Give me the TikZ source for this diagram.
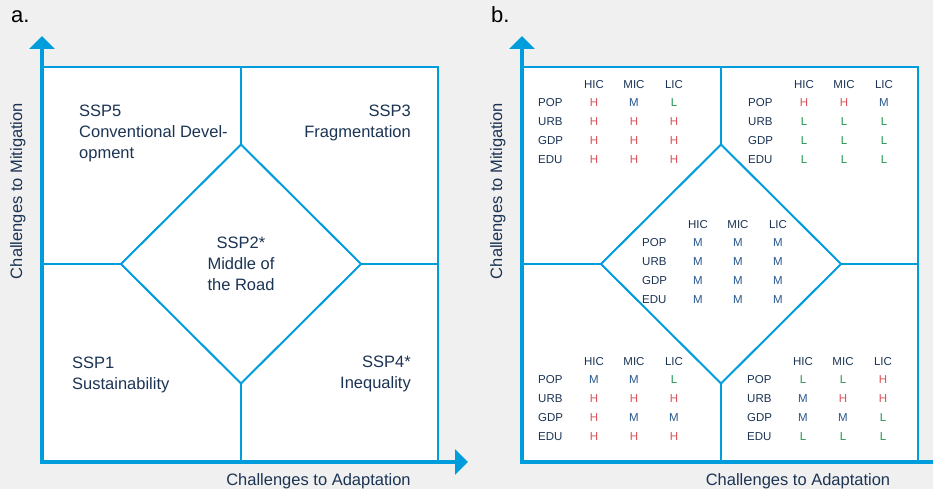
\documentclass[tikz,border=0pt]{standalone}
\usepackage{fontspec}
\setmainfont{Liberation Sans}
\usetikzlibrary{shapes.geometric,arrows.meta}

\definecolor{sspblue}{RGB}{0,157,220}
\definecolor{sspnavy}{RGB}{28,52,84}
\definecolor{sspbg}{RGB}{240,240,240}
\definecolor{colH}{RGB}{220,80,85}
\definecolor{colM}{RGB}{40,88,140}
\definecolor{colL}{RGB}{35,150,80}

\tikzset{
  axisline/.style={draw=sspblue, line width=4pt,
    {Triangle[width=25pt,length=13pt]}-{Triangle[width=25pt,length=13pt]}},
  quadbox/.style={draw=sspblue, fill=white, line width=2pt, minimum width=395pt,
    minimum height=394pt, inner sep=0pt, outer sep=0pt},
  middiamond/.style={diamond, draw=sspblue, line width=2pt, minimum width=240pt,
    minimum height=239pt, inner sep=0pt, outer sep=0pt},
  divider/.style={draw=sspblue, line width=2pt},
  ssplabel/.style={text=sspnavy, inner sep=0pt, font=\fontsize{16.5}{21}\selectfont},
  axislabel/.style={text=sspnavy, inner sep=0pt, font=\fontsize{16.5}{20}\selectfont},
  panellabel/.style={inner sep=0pt, anchor=base west, font=\fontsize{22}{26}\selectfont},
  cell/.style={inner sep=0pt, text height=8pt, text depth=0pt, text=sspnavy,
    font=\fontsize{11.5}{14}\selectfont},
  rowlab/.style={cell, anchor=west},
  val/.style={cell, text=col#1},
}

% one small table: name, x, y of first row, rows
\newcommand{\ssptable}[4]{%
  \foreach \hd [count=\ci] in {HIC,MIC,LIC}
    \node[cell] (#1-\hd) at ({#2+16+40*\ci},{#3-18}) {\hd};
  \foreach \lab/\va/\vb/\vc [count=\ri] in {#4} {
    \node[rowlab] (#1-\lab) at (#2,{#3+19*(\ri-1)}) {\lab};
    \node[val=\va] (#1-\lab-hic) at ({#2+56},{#3+19*(\ri-1)}) {\va};
    \node[val=\vb] (#1-\lab-mic) at ({#2+96},{#3+19*(\ri-1)}) {\vb};
    \node[val=\vc] (#1-\lab-lic) at ({#2+136},{#3+19*(\ri-1)}) {\vc};
  }%
}

\begin{document}
\begin{tikzpicture}[x=1pt, y=-1pt]
  \useasboundingbox (0,0) rectangle (933,489);
  \clip (0,0) rectangle (933,489);
  \fill[sspbg] (0,0) rectangle (933,489);

  % panel a
  \node[quadbox] (boxA) at (240.5,264) {};
  \node[middiamond] (diaA) at (241,264) {};
  \draw[divider] (diaA.north) -- (diaA.north |- boxA.north);
  \draw[divider] (diaA.south) -- (diaA.south |- boxA.south);
  \draw[divider] (diaA.west) -- (diaA.west -| boxA.west);
  \draw[divider] (diaA.east) -- (diaA.east -| boxA.east);
  \coordinate (topA) at (42,36);
  \coordinate (originA) at (42,462);
  \coordinate (rightA) at (468,462);
  \draw[axisline] (topA) -- (originA) -- (rightA);

  \node[panellabel] (labA) at (11,23) {a.};
  \node[ssplabel, align=left, anchor=north west] (ssp5) at (79,105)
    {SSP5\\Conventional Devel-\\opment};
  \node[ssplabel, align=right, anchor=north east] (ssp3) at (411,105)
    {SSP3\\Fragmentation};
  \node[ssplabel, align=center, anchor=north] (ssp2) at (241,237)
    {SSP2*\\Middle of\\the Road};
  \node[ssplabel, align=left, anchor=north west] (ssp1) at (72,357)
    {SSP1\\Sustainability};
  \node[ssplabel, align=right, anchor=north east] (ssp4) at (411,356)
    {SSP4*\\Inequality};
  \node[axislabel, anchor=base] (adaptA) at (318.5,485) {Challenges to Adaptation};
  \node[axislabel, rotate=90, anchor=base] (mitA) at (22,191) {Challenges to Mitigation};

  % panel b
  \node[quadbox] (boxB) at (720.5,264) {};
  \node[middiamond] (diaB) at (721,264) {};
  \draw[divider] (diaB.north) -- (diaB.north |- boxB.north);
  \draw[divider] (diaB.south) -- (diaB.south |- boxB.south);
  \draw[divider] (diaB.west) -- (diaB.west -| boxB.west);
  \draw[divider] (diaB.east) -- (diaB.east -| boxB.east);
  \coordinate (topB) at (522,36);
  \coordinate (originB) at (522,462);
  \coordinate (rightB) at (948,462);
  \draw[axisline] (topB) -- (originB) -- (rightB);

  \node[panellabel] (labB) at (491,23) {b.};
  \ssptable{tl}{538}{103}{POP/H/M/L,URB/H/H/H,GDP/H/H/H,EDU/H/H/H}
  \ssptable{tr}{748}{103}{POP/H/H/M,URB/L/L/L,GDP/L/L/L,EDU/L/L/L}
  \ssptable{mid}{642}{242}{POP/M/M/M,URB/M/M/M,GDP/M/M/M,EDU/M/M/M}
  \ssptable{bl}{538}{379}{POP/M/M/L,URB/H/H/H,GDP/H/M/M,EDU/H/H/H}
  \ssptable{br}{747}{379}{POP/L/L/H,URB/M/H/H,GDP/M/M/L,EDU/L/L/L}
  \node[axislabel, anchor=base] (adaptB) at (798,485) {Challenges to Adaptation};
  \node[axislabel, rotate=90, anchor=base] (mitB) at (502,191) {Challenges to Mitigation};
\end{tikzpicture}
\end{document}
